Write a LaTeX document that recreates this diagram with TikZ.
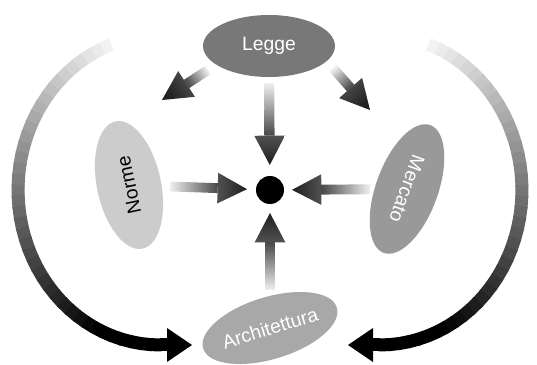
\documentclass[tikz,border=0pt]{standalone}
\usepackage{fontspec}
\setmainfont{Liberation Sans}
\usetikzlibrary{calc,shapes.geometric}
\colorlet{leggefill}{black!53}
\colorlet{normefill}{black!20}
\colorlet{mercatofill}{black!40}
\colorlet{archfill}{black!34}
\colorlet{shaftlight}{black!6}
\colorlet{shaftdark}{black!72}
\colorlet{headlight}{black!68}
\colorlet{headdark}{black!88}

% #1 shading angle, #2 tail, #3 tip
\newcommand\flowarrow[3]{%
  \coordinate (ft) at (#2);
  \coordinate (fh) at (#3);
  \coordinate (fn) at ($(fh)!22pt!(ft)$);
  \shade[top color=shaftlight, bottom color=shaftdark, shading angle=#1]
    ($(ft)!3.7pt!90:(fh)$)
    -- ($(fn)!3.7pt!-90:(ft)$)
    -- ($(fn)!3.7pt!90:(ft)$)
    -- ($(ft)!3.7pt!-90:(fh)$)
    -- cycle;
  \shade[top color=headlight, bottom color=headdark, shading angle=#1]
    ($(fn)!11.5pt!-90:(ft)$)
    -- (fh)
    -- ($(fn)!11.5pt!90:(ft)$)
    -- cycle;
}

\begin{document}
\begin{tikzpicture}[
            x=0.75pt, y=0.75pt,
            blob/.style={ellipse, inner sep=0pt,
                font=\fontsize{14.5}{16}\selectfont},
            band/.style={line width=9.75pt, line cap=butt}
        ]
            \useasboundingbox (0,0) rectangle (537,365);

            \foreach \i in {0,...,39}{
                \pgfmathsetmacro\ta{110+4*\i}
                \pgfmathsetmacro\tb{\ta+4.6}
                \pgfmathsetmacro\tone{min(100,5+95*\i/33)}
                \draw[band, draw=black!\tone]
                    ({160+142*cos(\ta)},{175+155*sin(\ta)})
                    -- ({160+142*cos(\tb)},{175+155*sin(\tb)});
                \draw[band, draw=black!\tone]
                    ({380-142*cos(\ta)},{175+155*sin(\ta)})
                    -- ({380-142*cos(\tb)},{175+155*sin(\tb)});
            }
            \coordinate (lend) at (192,20);
            \coordinate (rend) at (348,20);
            \draw[band] (160,20) -- (168,20);
            \draw[band] (380,20) -- (372,20);
            \fill (167,37) -- (lend) -- (167,3) -- cycle;
            \fill (373,37) -- (rend) -- (373,3) -- cycle;

            \node[blob, fill=leggefill, text=white,
                minimum width=99pt, minimum height=46.5pt]
                (legge) at (269,319) {Legge};
            \node[blob, fill=normefill, rotate=102,
                minimum width=97.5pt, minimum height=48pt]
                (norme) at (129,180) {Norme};
            \node[blob, fill=mercatofill, text=white, rotate=-110,
                minimum width=102pt, minimum height=46.5pt]
                (mercato) at (407,176) {Mercato};
            \node[blob, fill=archfill, text=white, rotate=17,
                minimum width=97.5pt, minimum height=46.5pt]
                (archi) at (270,37) {Architettura};
            \node[circle, fill=black, minimum size=21pt, inner sep=0pt]
                (hub) at (270,175) {};

            \flowarrow{0}{$(legge)!27.75pt!(hub)$}{$(hub)!18.75pt!(legge)$}
            \flowarrow{90}{$(norme)!30.75pt!(hub)$}{$(hub)!17.25pt!(norme)$}
            \flowarrow{270}{$(mercato)!27.75pt!(hub)$}{$(hub)!16.5pt!(mercato)$}
            \flowarrow{180}{$(archi)!28.5pt!(hub)$}{$(hub)!17.25pt!(archi)$}
            \flowarrow{303}{$(legge)+(-61,-24)$}{$(legge)+(-107,-54)$}
            \flowarrow{41}{$(legge)+(64,-22)$}{$(legge)+(101,-64)$}
        \end{tikzpicture}
\end{document}
